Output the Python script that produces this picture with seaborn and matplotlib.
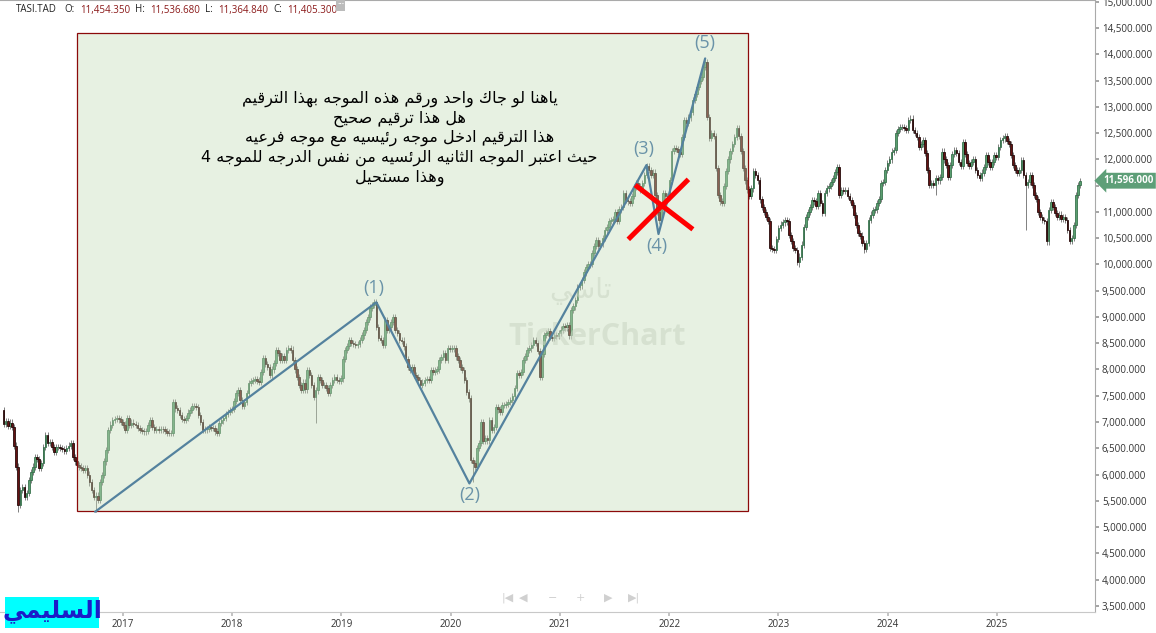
import numpy as np
import pandas as pd
import matplotlib
matplotlib.use("Agg")
import matplotlib.pyplot as plt
import matplotlib.patches as patches
import matplotlib.dates as mdates
import seaborn as sns

# weekly closes (TASI), one list per calendar year
first_open = 7230
close_2015 = [6960, 7020, 6930, 6990, 6900]
close_2016 = [6550, 6150, 5420, 5700, 5760, 5580, 5650, 5900, 6050, 6150, 6330, 6300, 6130,
              6220, 6520, 6750, 6600, 6620, 6520, 6430, 6520, 6520, 6500, 6480, 6450, 6500,
              6550, 6600, 6330, 6250, 6180, 6150, 6120, 6085, 6120, 6000, 5850, 5700, 5570,
              5600, 5520, 5860, 5990, 6250, 6466, 6850, 6950, 7037, 7060, 7080, 7050, 7000]
close_2017 = [6950, 6850, 7070, 6940, 6990, 6960, 6940, 6880, 6850, 6830, 6820, 6830, 6940,
              7037, 6900, 6845, 6860, 6850, 6870, 6860, 6830, 6800, 6790, 6790, 7380, 7260,
              7228, 7130, 7060, 7037, 7080, 7180, 7228, 7300, 7310, 7280, 7130, 7000, 6850,
              6860, 6870, 6900, 6890, 6880, 6820, 6800, 6980, 7030, 7070, 7150, 7190, 7230, 7250]
close_2018 = [7400, 7550, 7609, 7420, 7300, 7380, 7550, 7740, 7780, 7800, 7820, 7790, 7760,
              7950, 8220, 8100, 8050, 7900, 8000, 8120, 8370, 8310, 8180, 8250, 8180, 8370,
              8400, 8380, 8180, 8000, 7860, 7700, 7610, 7750, 7620, 7990, 7900, 7700, 7470,
              7600, 7860, 7800, 7700, 7700, 7650, 7550, 7700, 7800, 7850, 7800, 7780, 7830]
close_2019 = [8200, 8370, 8450, 8560, 8500, 8480, 8460, 8480, 8560, 8650, 8750, 8900, 9000,
              9180, 9230, 9280, 8810, 8600, 8560, 8470, 8940, 8750, 8800, 8900, 9000, 8750,
              8700, 8560, 8550, 8440, 8200, 8050, 7990, 8050, 7900, 7850, 7800, 7700, 7750,
              7800, 7820, 7800, 7990, 7950, 7980, 8000, 8180, 8240, 8320, 8180, 8410, 8390]
close_2020 = [8400, 8410, 8250, 8180, 8050, 7990, 7800, 7570, 7450, 6280, 6220, 6150, 6500,
              6600, 7000, 6640, 6700, 6650, 7037, 6850, 6900, 7280, 7240, 7200, 7320, 7330,
              7340, 7380, 7420, 7500, 7650, 7930, 7900, 7950, 8180, 8250, 8370, 8400, 8460,
              8560, 8500, 8350, 7860, 8300, 8660, 8700, 8730, 8620, 8600, 8650, 8640, 8690]
close_2021 = [8760, 8830, 8800, 8850, 8650, 9130, 9200, 9320, 9570, 9600, 9700, 9850, 9950,
              10000, 10010, 10218, 10350, 10466, 10350, 10400, 10500, 10650, 10720, 10830, 10850, 10870,
              11000, 10830, 11050, 11100, 11360, 11230, 11200, 11170, 11300, 11470, 11550, 11500, 11430,
              11550, 11700, 11880, 11800, 11700, 11750, 11320, 11000, 10840, 11100, 11360, 11300, 11280]
close_2022 = [11600, 12160, 12220, 12200, 12150, 12100, 12430, 12750, 12700, 12800, 12900, 13130, 13250,
              13380, 13500, 13570, 13760, 13850, 12810, 12410, 12500, 12450, 11840, 11320, 11200, 11170,
              11500, 11780, 12000, 12160, 12300, 12430, 12600, 12450, 12160, 11840, 11600, 11430, 11300,
              11450, 11780, 11700, 11600, 11240, 11100, 11000, 10900, 10830, 10320, 10300, 10280, 10480]
close_2023 = [10690, 10760, 10800, 10840, 10820, 10560, 10450, 10320, 10280, 10050, 10150, 10380, 10720,
              10900, 11000, 11100, 11230, 11200, 11110, 11360, 11170, 10980, 11360, 11450, 11500, 11570,
              11650, 11760, 11850, 11320, 11420, 11400, 11420, 11300, 11230, 11130, 10940, 10750, 10600,
              10550, 10410, 10300, 10410, 10850, 10950, 11040, 11050, 11170, 11250, 11550, 11570, 11800, 11930]
close_2024 = [12000, 12150, 12180, 12500, 12580, 12620, 12620, 12600, 12560, 12750, 12780, 12560, 12500,
              12430, 12240, 12300, 12370, 12120, 11800, 11510, 11550, 11510, 11650, 11600, 11670, 12150,
              12000, 11900, 11670, 11900, 12100, 12180, 12120, 11950, 11870, 12330, 12100, 11930, 11870,
              11950, 12000, 11800, 11700, 11650, 11750, 11860, 12080, 11950, 11860, 11950, 12080, 12050]
close_2025 = [12240, 12370, 12400, 12450, 12350, 12300, 12080, 11900, 11800, 11740, 11800, 11990, 11700,
              11510, 11570, 11700, 11510, 11320, 11250, 11000, 10900, 10850, 10830, 10440, 11040, 11190,
              11100, 10980, 10900, 10950, 10870, 10900, 10850, 10660, 10450, 10500, 10750, 11320, 11510, 11596]

year_starts = ["2015-11-29", "2016-01-01", "2017-01-01", "2018-01-01", "2019-01-01", "2020-01-01",
               "2021-01-01", "2022-01-01", "2023-01-01", "2024-01-01", "2025-01-01"]
year_closes = [close_2015, close_2016, close_2017, close_2018, close_2019, close_2020,
               close_2021, close_2022, close_2023, close_2024, close_2025]

# weeks with long lower shadows
long_lows = {"2016-01-17": 5290, "2016-10-02": 5290, "2018-10-07": 6980, "2020-03-15": 5860,
             "2023-03-12": 9950, "2023-10-15": 10220, "2024-06-09": 11320, "2025-04-06": 10660}

# hand-drawn wave count
wave_dates = ["2016-09-30", "2019-04-28", "2020-03-04", "2021-10-17", "2021-11-26", "2022-05-01"]
wave_values = [5290, 9280, 5830, 11895, 10580, 13925]
wave_labels = ["", "(1)", "(2)", "(3)", "(4)", "(5)"]
label_offsets = [(0, 0), (-2, 10), (0, -8.5), (-2, 11.5), (-1, -8.5), (0, 11)]

note_lines = ["ياهنا لو جاك واحد ورقم هذه الموجه بهذا الترقيم",
              "هل هذا ترقيم صحيح",
              "هذا الترقيم ادخل موجه رئيسيه مع موجه فرعيه",
              "حيث اعتبر الموجه الثانيه الرئسيه من نفس الدرجه للموجه 4",
              "وهذا مستحيل"]
author = "السليمي"
last_price = 11596

# ---------------------------------------------------------------- arabic shaping (mpl has no bidi)
AR_FORMS = {
    "\u0622": (0xFE81, 2), "\u0623": (0xFE83, 2), "\u0624": (0xFE85, 2), "\u0625": (0xFE87, 2),
    "\u0626": (0xFE89, 4), "\u0627": (0xFE8D, 2), "\u0628": (0xFE8F, 4), "\u0629": (0xFE93, 2),
    "\u062A": (0xFE95, 4), "\u062B": (0xFE99, 4), "\u062C": (0xFE9D, 4), "\u062D": (0xFEA1, 4),
    "\u062E": (0xFEA5, 4), "\u062F": (0xFEA9, 2), "\u0630": (0xFEAB, 2), "\u0631": (0xFEAD, 2),
    "\u0632": (0xFEAF, 2), "\u0633": (0xFEB1, 4), "\u0634": (0xFEB5, 4), "\u0635": (0xFEB9, 4),
    "\u0636": (0xFEBD, 4), "\u0637": (0xFEC1, 4), "\u0638": (0xFEC5, 4), "\u0639": (0xFEC9, 4),
    "\u063A": (0xFECD, 4), "\u0641": (0xFED1, 4), "\u0642": (0xFED5, 4), "\u0643": (0xFED9, 4),
    "\u0644": (0xFEDD, 4), "\u0645": (0xFEE1, 4), "\u0646": (0xFEE5, 4), "\u0647": (0xFEE9, 4),
    "\u0648": (0xFEED, 2), "\u0649": (0xFEEF, 2), "\u064A": (0xFEF1, 4),
}
LAM_ALEF = {"\u0622": 0xFEF5, "\u0623": 0xFEF7, "\u0625": 0xFEF9, "\u0627": 0xFEFB}


def shape_arabic(text):
    seq = []
    i = 0
    while i < len(text):
        c = text[i]
        if c == "\u0644" and i + 1 < len(text) and text[i + 1] in LAM_ALEF:
            seq.append(("LA", text[i + 1]))
            i += 2
        else:
            seq.append(("C", c))
            i += 1

    def is_ar(item):
        return item[0] == "LA" or item[1] in AR_FORMS

    def joins_next(item):
        return item[0] == "C" and item[1] in AR_FORMS and AR_FORMS[item[1]][1] == 4

    out = []
    for k, item in enumerate(seq):
        prev_j = k > 0 and joins_next(seq[k - 1]) and is_ar(item)
        next_j = k + 1 < len(seq) and is_ar(seq[k + 1]) and joins_next(item)
        if item[0] == "LA":
            out.append(chr(LAM_ALEF[item[1]] + (1 if prev_j else 0)))
        elif item[1] in AR_FORMS:
            base = AR_FORMS[item[1]][0]
            off = 3 if (prev_j and next_j) else 1 if prev_j else 2 if next_j else 0
            out.append(chr(base + off))
        else:
            out.append(item[1])
    return "".join(reversed(out))


# ---------------------------------------------------------------- build candles
frames = []
for start, closes in zip(year_starts, year_closes):
    frames.append(pd.DataFrame({"date": pd.date_range(start, periods=len(closes), freq="W-SUN"),
                                "close": closes}))
df = pd.concat(frames, ignore_index=True)
df["open"] = [first_open] + df["close"].tolist()[:-1]
WICK = 60
df["high"] = df[["open", "close"]].max(axis=1) + WICK
df["low"] = df[["open", "close"]].min(axis=1) - WICK
for d, v in long_lows.items():
    m = df["date"] == pd.Timestamp(d)
    df.loc[m, "low"] = np.minimum(df.loc[m, "low"], v)
up = df["close"] >= df["open"]

sns.set_theme(style="white")
plt.rcParams["font.family"] = ["Open Sans", "DejaVu Sans"]

fig = plt.figure(figsize=(11.56, 6.33), dpi=100)
ax = fig.add_axes([0, 21 / 633, 1095 / 1156, 612 / 633])

ax.vlines(df["date"], df["low"], df["high"], color="#808080", lw=0.7, zorder=1)
ax.bar(df["date"][up], (df["close"] - df["open"])[up], bottom=df["open"][up], width=5.4,
       color="#5a9e70", edgecolor="#2f6b45", lw=0.55, zorder=2)
ax.bar(df["date"][~up], (df["close"] - df["open"])[~up], bottom=df["open"][~up], width=5.4,
       color="#641212", edgecolor="#1a0000", lw=0.55, zorder=2)

# highlighted box
x0, x1 = mdates.date2num(pd.Timestamp("2016-07-31")), mdates.date2num(pd.Timestamp("2022-09-21"))
y0, y1 = 5303, 14409
ax.add_patch(patches.Rectangle((x0, y0), x1 - x0, y1 - y0, fc="#c5dcb8", ec="none", alpha=0.4, zorder=3))
ax.add_patch(patches.Rectangle((x0, y0), x1 - x0, y1 - y0, fill=False, ec="#8b0a0a", lw=0.9, zorder=3))

# watermark
ax.text(0.53, 0.525, shape_arabic("تاسي"), transform=ax.transAxes, ha="center", va="center",
        fontsize=20, family="DejaVu Sans", color="#c9d4c2", alpha=0.55, zorder=3)
ax.text(0.545, 0.449, "TickerChart", transform=ax.transAxes, ha="center", va="center",
        fontsize=22, fontweight="bold", color="#c9d4c2", alpha=0.55, zorder=3)

# wave count
waves = pd.DataFrame({"date": pd.to_datetime(wave_dates), "value": wave_values})
sns.lineplot(data=waves, x="date", y="value", sort=False, color="#54829e", lw=1.6, ax=ax, zorder=4)
for d, v, lab, off in zip(waves["date"], wave_values, wave_labels, label_offsets):
    if lab:
        ax.annotate(lab, (d, v), xytext=off, textcoords="offset points", ha="center", va="center",
                    fontsize=13, color="#6a93a8", zorder=5)

# red cross over wave 4
ax.plot(pd.to_datetime(["2021-08-17", "2022-03-06"]), [10479, 11622], color="#ff0000", lw=3.6,
        solid_capstyle="butt", zorder=5)
ax.plot(pd.to_datetime(["2021-09-09", "2022-03-21"]), [11514, 10670], color="#ff0000", lw=3.6,
        solid_capstyle="butt", zorder=5)

ax.text(0.365, 0.774, "\n".join(shape_arabic(s) for s in note_lines), transform=ax.transAxes,
        ha="center", va="center", fontsize=11.5, family="DejaVu Sans", color="black",
        linespacing=1.3, zorder=6)

# axes styling
ax.set_xlim(pd.Timestamp("2015-11-17"), pd.Timestamp("2025-11-24"))
ax.set_ylim(3381, 15038)
ax.set_xlabel("")
ax.set_ylabel("")
ax.set_xticks(pd.to_datetime([f"{y}-01-01" for y in range(2017, 2026)]))
ax.xaxis.set_major_formatter(mdates.DateFormatter("%Y"))
ax.set_yticks(np.arange(3500, 15001, 500))
# the 11,500 label sits behind the last-price tag
ax.yaxis.set_major_formatter(plt.FuncFormatter(lambda v, p: "" if v == 11500 else f"{v:,.3f}"))
ax.yaxis.tick_right()
ax.tick_params(axis="y", length=3, color="#999999", labelsize=7, labelcolor="#333333", pad=2)
ax.tick_params(axis="x", length=3, color="#bbbbbb", labelsize=7, labelcolor="#333333", pad=2,
               bottom=True)
ax.spines["left"].set_visible(False)
ax.spines["top"].set_color("#aaaaaa")
ax.spines["right"].set_color("#aaaaaa")
ax.spines["bottom"].set_color("#c8c8c8")
for s in ["top", "right", "bottom"]:
    ax.spines[s].set_linewidth(0.8)
ax.grid(False)

# last price tag
tr = matplotlib.transforms.blended_transform_factory(ax.transAxes, ax.transData)
ax.text(1.0 + 8 / 1095, last_price, f"{last_price:,.3f}", transform=tr, ha="left", va="center",
        fontsize=7, fontweight="bold", color="white", clip_on=False,
        bbox=dict(boxstyle="larrow,pad=0.25", fc="#5e9f78", ec="none"))


# header
def ftext(px, py, s, **kw):
    fig.text(px / 1156, 1 - py / 633, s, va="center", **kw)


ftext(16, 10, "TASI.TAD", fontsize=7, color="#222222")
for lx, lab, vx, val in [(64, "O:", 80, "11,454.350"), (135, "H:", 150, "11,536.680"),
                         (205, "L:", 218, "11,364.840"), (273, "C:", 287, "11,405.300")]:
    ftext(lx, 10, lab, fontsize=7, color="#222222")
    ftext(vx, 10, val, fontsize=7, color="#8b1a1a")
ftext(337, 5, "···", fontsize=6, color="white", fontweight="bold",
      bbox=dict(boxstyle="square,pad=0.15", fc="#bbbbbb", ec="none"))

# navigation buttons
for nx, sym in [(508, "|◀"), (523, "◀"), (553, "−"), (580, "+"), (608, "▶"), (634, "▶|")]:
    ftext(nx, 598, sym, fontsize=8, color="#d0d0d0", ha="center", family="DejaVu Sans")

# author tag
fig.patches.append(patches.Rectangle((5 / 1156, 1 - 628 / 633), 94 / 1156, 31 / 633,
                                     transform=fig.transFigure, fc="#00ffff", ec="none"))
ftext(52, 611, shape_arabic(author), fontsize=17, fontweight="bold", color="#1c1cc8",
      ha="center", family="DejaVu Sans")

fig.savefig("out.png", dpi=100)
